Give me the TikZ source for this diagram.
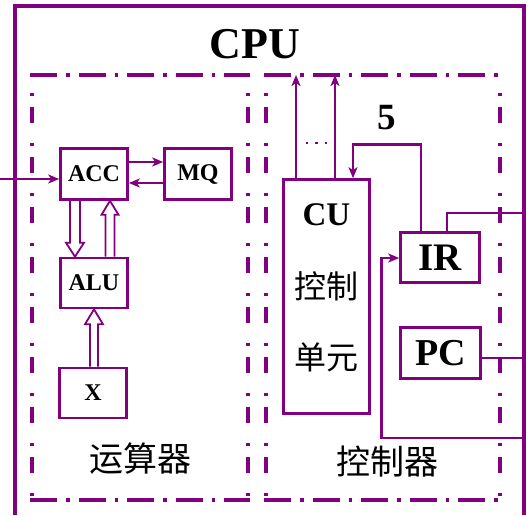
\documentclass[tikz,border=0pt]{standalone}
\usepackage{fontspec}
\setmainfont{Liberation Serif}
\newfontfamily\cjk{Noto Sans CJK SC}
\usetikzlibrary{calc,arrows.meta}
\definecolor{pur}{RGB}{128,0,128}
\begin{document}
\begin{tikzpicture}[x=1pt,y=-1pt,
  box/.style={draw=pur,line width=2.6pt,inner sep=0pt,font=\bfseries\fontsize{24}{24}\selectfont},
  bigbox/.style={box,font=\bfseries\fontsize{38}{38}\selectfont},
  arr/.style={draw=pur,line width=2.6pt,-{Stealth[length=11pt,width=9pt,inset=3pt]}},
  ln/.style={draw=pur,line width=2.6pt},
  hollow/.style={draw=pur,line width=1.8pt,line join=miter},
  hdash/.style={draw=pur,line width=3.4pt,dash pattern=on 27pt off 9pt on 3.5pt off 9pt},
  vdash/.style={draw=pur,line width=3.4pt,dash pattern=on 3pt off 11pt on 16pt off 20pt,dash phase=32pt},
  cjktext/.style={font=\cjk\fontsize{34}{34}\selectfont}]
\useasboundingbox (0,0) rectangle (528,515);
% outer CPU box
\draw[pur,line width=4.5pt] (15,515) -- (15,6) -- (524,6) -- (524,515);
\node[font=\bfseries\fontsize{44}{44}\selectfont] (cpu) at (255,44) {CPU};
% dash-dot boxes
\draw[hdash] (30.3,75) -- (249.7,75);
\draw[hdash] (30.3,500) -- (249.7,500);
\draw[vdash] (32,75) -- (32,500);
\draw[vdash] (248,75) -- (248,500);
\draw[hdash] (264.3,75) -- (501.7,75);
\draw[hdash] (264.3,500) -- (501.7,500);
\draw[vdash] (266,75) -- (266,500);
\draw[vdash] (500,75) -- (500,500);
% arithmetic unit
\node[box,minimum width=67pt,minimum height=51pt] (acc) at (94,174) {ACC};
\node[box,minimum width=67pt,minimum height=51pt] (mq) at (198,174) {MQ};
\node[box,minimum width=67pt,minimum height=50pt] (alu) at (94,283) {ALU};
\node[box,minimum width=67pt,minimum height=50pt] (x) at (93,393) {X};
\node[cjktext] (yun) at (140,459) {运算器};
\coordinate (in) at (0,179);
\draw[arr] (in) -- (acc.west|-in);
\draw[arr] ($(acc.east)+(0,-12)$) -- ($(mq.west)+(0,-12)$);
\draw[arr] ($(mq.west)+(0,9)$) -- ($(acc.east)+(0,9)$);
% hollow arrows
\coordinate (a1) at ($(acc.south)+(-19,0)$);
\coordinate (b1) at ($(alu.north)+(-19,0)$);
\draw[hollow] ($(a1)+(-5,0)$) -- ($(b1)+(-5,-14)$) -- ($(b1)+(-9,-14)$) -- (b1) -- ($(b1)+(9,-14)$) -- ($(b1)+(5,-14)$) -- ($(a1)+(5,0)$);
\coordinate (a2) at ($(alu.north)+(16,0)$);
\coordinate (b2) at ($(acc.south)+(16,0)$);
\draw[hollow] ($(a2)+(-4.5,0)$) -- ($(b2)+(-4.5,14)$) -- ($(b2)+(-8.5,14)$) -- (b2) -- ($(b2)+(8.5,14)$) -- ($(b2)+(4.5,14)$) -- ($(a2)+(4.5,0)$);
\coordinate (a3) at ($(x.north)+(1,0)$);
\coordinate (b3) at (alu.south);
\draw[hollow] ($(a3)+(-4,0)$) -- ($(b3)+(-4,15)$) -- ($(b3)+(-9,15)$) -- (b3) -- ($(b3)+(9,15)$) -- ($(b3)+(4,15)$) -- ($(a3)+(4,0)$);
% control unit
\node[box,minimum width=86pt,minimum height=234pt] (cu) at (326.5,296.5) {};
\node[font=\bfseries\fontsize{33}{33}\selectfont] (cut) at ($(cu.north)+(0,37)$) {CU};
\node[font=\cjk\fontsize{32}{32}\selectfont] (kz) at ($(cu.north)+(0,108)$) {控制};
\node[font=\cjk\fontsize{32}{32}\selectfont] (dy) at ($(cu.north)+(0,179)$) {单元};
\coordinate (o1) at (296,75);
\coordinate (o2) at (335,75);
\draw[arr] (cu.north-|o1) -- (o1);
\draw[arr] (cu.north-|o2) -- (o2);
\draw[pur,line width=2.4pt,dash pattern=on 2.4pt off 7pt] (306,143) -- (332,143);
\node[bigbox,minimum width=79pt,minimum height=50pt,font=\bfseries\fontsize{39}{39}\selectfont] (ir) at (440,257.5) {IR};
\node[bigbox,minimum width=80pt,minimum height=51pt] (pc) at (440.5,353) {PC};
\node[font=\bfseries\fontsize{37}{37}\selectfont] (five) at (387,118) {5};
\draw[arr] ($(ir.north)+(-19,0)$) |- ($(cu.north)+(26.5,-34)$) -- ($(cu.north)+(26.5,0)$);
\coordinate (r1) at (524,213);
\coordinate (r2) at (524,438);
\coordinate (r3) at (524,358);
\draw[ln] ($(ir.north)+(7,0)$) |- (r1);
\draw[arr] (r2) -| ($(ir.west)+(-17.5,0.5)$) -- ($(ir.west)+(0,0.5)$);
\draw[ln] (pc.east|-r3) -- (r3);
\node[cjktext] (kzq) at (387,462) {控制器};
\end{tikzpicture}
\end{document}
